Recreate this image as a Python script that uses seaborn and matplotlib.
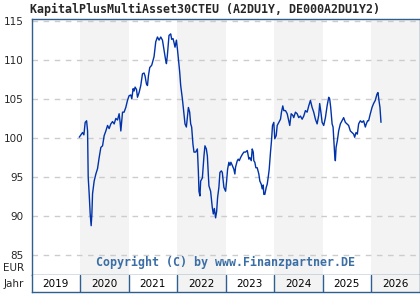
import matplotlib
matplotlib.use("Agg")
import matplotlib.pyplot as plt
import seaborn as sns
import pandas as pd

# ---- data (decimal year, fund price in EUR) ----
t = [2019.984, 2020.029, 2020.053, 2020.080, 2020.107, 2020.136, 2020.156, 2020.169, 2020.189, 2020.210,
     2020.230, 2020.245, 2020.259, 2020.292, 2020.327, 2020.362, 2020.395, 2020.430, 2020.465, 2020.498,
     2020.533, 2020.568, 2020.601, 2020.636, 2020.671, 2020.704, 2020.739, 2020.774, 2020.807, 2020.827,
     2020.842, 2020.877, 2020.909, 2020.944, 2020.979, 2021.012, 2021.047, 2021.068, 2021.095, 2021.115,
     2021.136, 2021.165, 2021.185, 2021.218, 2021.253, 2021.288, 2021.321, 2021.342, 2021.370, 2021.391,
     2021.412, 2021.438, 2021.479, 2021.527, 2021.562, 2021.597, 2021.630, 2021.665, 2021.700, 2021.733,
     2021.767, 2021.782, 2021.802, 2021.835, 2021.870, 2021.891, 2021.918, 2021.938, 2021.959, 2021.988,
     2022.008, 2022.029, 2022.056, 2022.076, 2022.111, 2022.135, 2022.165, 2022.193, 2022.214, 2022.235,
     2022.261, 2022.282, 2022.302, 2022.329, 2022.350, 2022.385, 2022.420, 2022.440, 2022.453, 2022.473,
     2022.488, 2022.523, 2022.556, 2022.576, 2022.605, 2022.626, 2022.646, 2022.658, 2022.693, 2022.728,
     2022.749, 2022.770, 2022.796, 2022.817, 2022.837, 2022.864, 2022.885, 2022.914, 2022.934, 2022.967,
     2023.002, 2023.023, 2023.043, 2023.070, 2023.091, 2023.111, 2023.140, 2023.173, 2023.193, 2023.208,
     2023.243, 2023.263, 2023.284, 2023.311, 2023.346, 2023.379, 2023.414, 2023.449, 2023.482, 2023.502,
     2023.531, 2023.551, 2023.572, 2023.584, 2023.605, 2023.626, 2023.654, 2023.687, 2023.708, 2023.737,
     2023.757, 2023.778, 2023.790, 2023.811, 2023.840, 2023.860, 2023.881, 2023.901, 2023.928, 2023.949,
     2023.969, 2023.996, 2024.016, 2024.045, 2024.066, 2024.099, 2024.134, 2024.154, 2024.181, 2024.202,
     2024.237, 2024.272, 2024.305, 2024.325, 2024.354, 2024.387, 2024.407, 2024.442, 2024.477, 2024.510,
     2024.545, 2024.580, 2024.613, 2024.648, 2024.683, 2024.716, 2024.751, 2024.786, 2024.819, 2024.854,
     2024.889, 2024.922, 2024.942, 2024.971, 2024.992, 2025.025, 2025.060, 2025.095, 2025.128, 2025.148,
     2025.169, 2025.198, 2025.218, 2025.239, 2025.251, 2025.265, 2025.280, 2025.307, 2025.333, 2025.368,
     2025.403, 2025.436, 2025.471, 2025.506, 2025.539, 2025.574, 2025.609, 2025.642, 2025.663, 2025.691,
     2025.718, 2025.745, 2025.780, 2025.815, 2025.848, 2025.883, 2025.903, 2025.930, 2025.951, 2025.986,
     2026.021, 2026.053, 2026.088, 2026.123, 2026.144, 2026.164, 2026.185, 2026.206]
price = [100.1, 100.5, 100.7, 100.4, 102.0, 102.2, 100.9, 95.0, 92.9, 90.3,
         88.8, 90.3, 92.9, 94.5, 95.4, 96.1, 97.5, 98.8, 99.0, 100.3,
         100.9, 101.6, 101.2, 101.8, 102.1, 101.8, 102.5, 102.3, 103.1, 102.0,
         100.9, 103.3, 103.3, 103.9, 104.8, 105.4, 105.5, 105.0, 106.3, 106.0,
         106.5, 106.2, 105.2, 105.8, 106.7, 108.2, 108.3, 107.9, 106.9, 106.7,
         108.0, 109.0, 109.3, 110.4, 112.3, 112.9, 112.5, 112.9, 112.5, 111.2,
         109.9, 109.5, 110.6, 113.1, 113.3, 112.6, 112.7, 112.2, 111.6, 112.5,
         111.4, 110.1, 108.4, 106.7, 105.0, 103.6, 101.8, 101.4, 102.7, 103.9,
         103.3, 101.8, 101.4, 99.2, 98.2, 98.2, 98.6, 95.8, 93.2, 92.6,
         94.5, 94.9, 97.7, 99.0, 98.6, 97.7, 95.4, 93.9, 93.2, 91.1,
         90.3, 91.0, 89.8, 90.6, 92.4, 93.7, 95.6, 95.8, 95.6, 93.7,
         93.2, 94.5, 96.0, 96.9, 96.5, 96.9, 96.5, 96.0, 95.4, 96.3,
         97.1, 97.3, 97.1, 97.5, 97.9, 98.2, 98.2, 98.4, 97.3, 97.5,
         97.1, 98.6, 98.2, 97.1, 96.9, 96.2, 96.2, 95.4, 94.5, 94.1,
         93.5, 94.0, 92.8, 92.8, 93.7, 94.1, 95.0, 96.0, 98.2, 99.7,
         101.6, 102.0, 99.9, 100.3, 101.6, 102.0, 102.4, 103.3, 104.1, 103.5,
         103.5, 103.1, 102.2, 101.6, 103.1, 102.9, 102.6, 103.3, 103.1, 102.6,
         102.8, 102.4, 102.8, 103.5, 103.3, 104.1, 104.8, 103.9, 103.3, 102.4,
         101.8, 102.9, 104.4, 103.1, 102.0, 101.6, 102.6, 104.1, 105.2, 105.0,
         103.9, 101.8, 101.4, 99.2, 97.9, 97.1, 98.8, 99.7, 100.9, 101.8,
         102.2, 102.6, 102.0, 101.8, 101.6, 100.9, 100.7, 100.5, 100.1, 100.7,
         100.5, 101.8, 102.2, 102.0, 102.2, 101.4, 101.8, 102.2, 102.2, 103.1,
         103.9, 104.4, 104.8, 105.6, 105.8, 104.8, 103.9, 102.0]
years = [2019, 2020, 2021, 2022, 2023, 2024, 2025, 2026]
shaded_years = [2020, 2022, 2024, 2026]
yticks = [85, 90, 95, 100, 105, 110, 115]

title = "KapitalPlusMultiAsset30CTEU (A2DU1Y, DE000A2DU1Y2)"
copyright_text = "Copyright (C) by www.Finanzpartner.DE"

sns.set_style("white")
plt.rcParams['font.family'] = ['DejaVu Sans']

BORDER = "#2f5f8f"
LINE = "#0033aa"
SHADE = "#f3f3f3"
GRID = "#cccccc"

df = pd.DataFrame({"t": t, "price": price})

fig = plt.figure(figsize=(4.2, 3.0), dpi=100)
fig.patch.set_facecolor("white")

left = 31.5 / 420
width = 388 / 420
ax = fig.add_axes([left, 1 - 275 / 300, width, 256 / 300])
for y0 in shaded_years:
    ax.axvspan(y0, y0 + 1, color=SHADE, lw=0, zorder=0)
for yv in yticks:
    ax.axhline(yv, color=GRID, lw=1, ls=(0, (4, 4)), zorder=1)
sns.lineplot(data=df, x="t", y="price", ax=ax, color=LINE, lw=1.0, zorder=3,
             estimator=None, sort=False)
ax.set_xlim(2019, 2027)
ax.set_ylim(82.5, 115.2)
ax.set_xticks([])
ax.set_yticks(yticks)
ax.set_yticklabels([str(v) for v in yticks], fontsize=7.5)
ax.tick_params(axis="y", length=0, pad=5.5)
ax.set_xlabel("")
ax.set_ylabel("")
for s in ax.spines.values():
    s.set_color(BORDER)
    s.set_linewidth(1)
ax.grid(False)

ax.text(0.5, 0.025, copyright_text, transform=ax.transAxes, ha="center", va="bottom",
        fontsize=8.4, fontweight="bold", family="DejaVu Sans Mono", color="#3a6ea5", zorder=5)

# year axis row
ax2 = fig.add_axes([left, 1 - 292 / 300, width, 17 / 300])
for y0 in shaded_years:
    ax2.axvspan(y0, y0 + 1, color=SHADE, lw=0, zorder=0)
for y0 in years[1:]:
    ax2.axvline(y0, color=BORDER, lw=1, zorder=2)
for y0 in years:
    ax2.text(y0 + 0.5, 0.45, str(y0), ha="center", va="center", fontsize=7.5, color="black")
ax2.set_xlim(2019, 2027)
ax2.set_ylim(0, 1)
ax2.set_xticks([])
ax2.set_yticks([])
for name, s in ax2.spines.items():
    s.set_color(BORDER)
    s.set_linewidth(1)
ax2.spines["top"].set_visible(False)

fig.text(24 / 420, 1 - 268 / 300, "EUR", ha="right", va="center", fontsize=7.5)
fig.text(24 / 420, 1 - 284 / 300, "Jahr", ha="right", va="center", fontsize=7.5)
fig.text(30 / 420, 1 - 9 / 300, title, ha="left", va="center", fontsize=8.35,
         fontweight="bold", family="DejaVu Sans Mono")

fig.savefig("out.png", dpi=100, facecolor="white")
